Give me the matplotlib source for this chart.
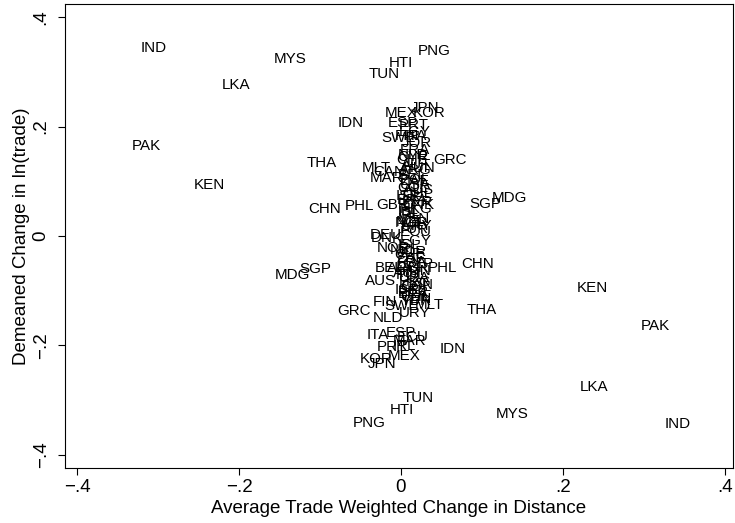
import numpy as np
import matplotlib
matplotlib.use("Agg")
import matplotlib.pyplot as plt

plt.rcParams['font.family'] = ['Liberation Sans', 'DejaVu Sans']

# country codes with (change in distance, demeaned change in ln(trade))
countries = [
    # upper half, outer points
    "IND", "MYS", "PNG", "HTI", "TUN", "LKA", "IDN", "PAK", "THA", "KEN",
    "CHN", "PHL", "SGP", "MDG", "GRC", "NLD", "MLT",
    # upper half, central cluster
    "JPN", "KOR", "MEX", "ESP", "PRT", "SWE", "FIN", "ITA", "CHE", "CAN",
    "MAR", "FRA", "AUT", "BEL", "USA", "ISR", "AUS", "GBR", "DNK", "IRL",
    "NZL", "NOR", "ISL", "ZAF", "BRA", "ARG", "CHL", "HKG", "TUR", "DEU",
    "EGY", "JOR", "CYP", "HUN", "POL", "COL", "PER", "VEN", "URY", "ECU",
    # lower half, outer points
    "IND", "PAK", "KEN", "LKA", "MYS", "TUN", "HTI", "PNG", "IDN", "THA",
    "CHN", "PHL", "SGP", "MDG", "GRC", "NLD", "MLT",
    # lower half, central cluster
    "GBR", "AUS", "ITA", "KOR", "JPN", "PRT", "MEX", "FIN", "SWE", "ESP",
    "IRL", "DNK", "NOR", "BEL", "ARG", "NZL", "ISL", "CHE", "FRA", "AUT",
    "USA", "CAN", "ISR", "BRA", "CHL", "ZAF", "HKG", "TUR", "MAR",
    "EGY", "JOR", "CYP", "HUN", "POL", "COL", "PER", "VEN", "URY", "ECU",
]

dist_change = [
    -0.322, -0.157, 0.021, -0.015, -0.040, -0.221, -0.078, -0.333, -0.117, -0.256,
    -0.115, -0.069, 0.085, 0.112, 0.040, -0.004, -0.048,
    0.012, 0.014, -0.020, -0.016, -0.003, -0.024, -0.008, 0.004, -0.006, -0.034,
    -0.038, -0.002, 0.000, -0.004, -0.001, -0.006, 0.003, -0.030, 0.002, -0.004,
    -0.006, -0.008, -0.004, 0.000, -0.005, -0.002, 0.002, -0.001, -0.004, -0.038,
    -0.003, 0.001, -0.005, 0.002, -0.002, -0.004, 0.001, -0.003, 0.000, -0.002,
    0.326, 0.296, 0.217, 0.221, 0.117, 0.002, -0.014, -0.059, 0.048, 0.081,
    0.074, 0.033, -0.126, -0.156, -0.079, -0.035, 0.017,
    -0.006, -0.044, -0.043, -0.051, -0.041, -0.030, -0.016, -0.035, -0.021, -0.019,
    -0.010, -0.037, -0.030, -0.032, -0.017, -0.014, -0.004, -0.008, -0.005, -0.010,
    -0.003, 0.000, -0.008, -0.004, -0.001, -0.006, -0.003, -0.001, -0.010,
    -0.002, -0.005, 0.001, -0.003, -0.006, -0.001, -0.004, 0.000, -0.002, -0.005,
]

trade_change = [
    0.343, 0.323, 0.338, 0.316, 0.296, 0.276, 0.206, 0.164, 0.133, 0.093,
    0.049, 0.055, 0.058, 0.069, 0.139, 0.148, 0.124,
    0.234, 0.225, 0.225, 0.206, 0.203, 0.179, 0.183, 0.183, 0.139, 0.117,
    0.106, 0.157, 0.130, 0.111, 0.093, 0.073, 0.084, 0.057, 0.057, 0.038,
    0.026, 0.024, 0.044, 0.100, 0.066, 0.120, 0.077, 0.050, 0.012, 0.002,
    0.190, 0.170, 0.145, 0.125, 0.102, 0.088, 0.062, 0.031, 0.018, 0.008,
    -0.343, -0.164, -0.095, -0.276, -0.325, -0.296, -0.318, -0.342, -0.206, -0.135,
    -0.051, -0.058, -0.060, -0.071, -0.137, -0.150, -0.126,
    -0.058, -0.082, -0.181, -0.225, -0.234, -0.203, -0.219, -0.121, -0.128, -0.177,
    -0.201, -0.004, -0.022, -0.058, -0.058, -0.025, -0.016, -0.034, -0.047, -0.068,
    -0.076, -0.090, -0.098, -0.106, -0.112, -0.041, -0.085, -0.118, -0.192,
    -0.010, -0.030, -0.052, -0.064, -0.072, -0.094, -0.102, -0.115, -0.140, -0.185,
]

xticks = [-0.4, -0.2, 0, 0.2, 0.4]
yticks = [-0.4, -0.2, 0, 0.2, 0.4]
tick_labels = ["\u2212.4", "\u2212.2", "0", ".2", ".4"]

fig = plt.figure(figsize=(7.35, 5.23), dpi=100)
ax = fig.add_axes([0.0884, 0.1052, 0.9088, 0.8872])

# invisible markers, labels only
ax.scatter(dist_change, trade_change, s=0, alpha=0)
for name, x, y in zip(countries, dist_change, trade_change):
    ax.text(x, y, name, ha='left', va='center', fontsize=10.9, color='black')

ax.set_xlim(-0.415, 0.41)
ax.set_ylim(-0.424, 0.424)
ax.set_xticks(xticks)
ax.set_xticklabels(tick_labels)
ax.set_yticks(yticks)
ax.set_yticklabels(tick_labels, rotation=90, va='center')
ax.tick_params(direction='out', length=5, width=0.8, labelsize=13.5, pad=3)
ax.tick_params(axis='y', pad=6)
for sp in ax.spines.values():
    sp.set_linewidth(0.8)

ax.set_xlabel("Average Trade Weighted Change in Distance", fontsize=13.5, labelpad=3)
ax.set_ylabel("Demeaned Change in ln(trade)", fontsize=13.5, labelpad=2)

fig.savefig("out.png", dpi=100)
